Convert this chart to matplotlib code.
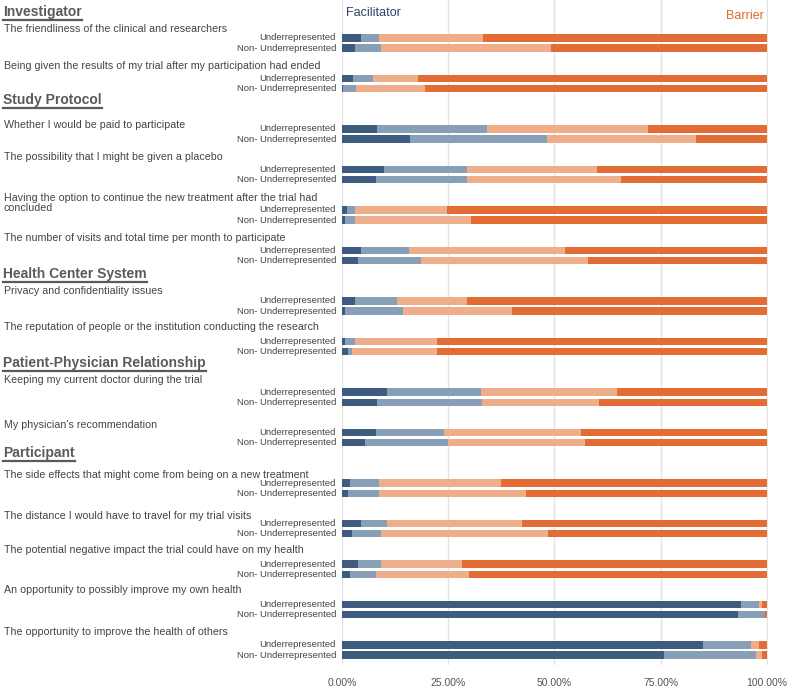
import numpy as np
import matplotlib.pyplot as plt
import matplotlib.transforms as mtransforms
from matplotlib.lines import Line2D

plt.rcParams['font.family'] = ['Liberation Sans', 'DejaVu Sans']

sections = ["Investigator", "Study Protocol", "Health Center System",
            "Patient-Physician Relationship", "Participant"]
section_of = [0, 0, 1, 1, 1, 1, 2, 2, 3, 3, 4, 4, 4, 4, 4]
questions = [
    "The friendliness of the clinical and researchers",
    "Being given the results of my trial after my participation had ended",
    "Whether I would be paid to participate",
    "The possibility that I might be given a placebo",
    "Having the option to continue the new treatment after the trial had\nconcluded",
    "The number of visits and total time per month to participate",
    "Privacy and confidentiality issues",
    "The reputation of people or the institution conducting the research",
    "Keeping my current doctor during the trial",
    "My physician's recommendation",
    "The side effects that might come from being on a new treatment",
    "The distance I would have to travel for my trial visits",
    "The potential negative impact the trial could have on my health",
    "An opportunity to possibly improve my own health",
    "The opportunity to improve the health of others",
]
groups = ["Underrepresented", "Non- Underrepresented"]

# shares in percent: strong facilitator, facilitator, barrier, strong barrier
under_dark = [4.4, 2.5, 8.2, 9.8, 1.25, 4.4, 3.1, 0.6, 10.5, 8.1, 1.9, 4.4, 3.7, 94.0, 85.1]
under_light = [4.2, 4.9, 26.0, 19.7, 1.85, 11.4, 9.8, 2.5, 22.3, 16.0, 6.7, 6.1, 5.5, 4.2, 11.2]
under_peach = [24.5, 10.6, 37.9, 30.6, 21.6, 36.8, 16.6, 19.3, 32.0, 32.1, 28.9, 31.9, 19.1, 0.6, 1.9]
under_orange = [66.9, 82.0, 27.9, 39.9, 75.3, 47.4, 70.5, 77.6, 35.2, 43.8, 62.5, 57.6, 71.7, 1.2, 1.8]

non_dark = [3.0, 0.3, 16.1, 7.9, 0.6, 3.7, 0.6, 1.3, 8.2, 5.3, 1.3, 2.35, 2.0, 93.2, 75.8]
non_light = [6.1, 3.1, 32.1, 21.6, 2.4, 14.9, 13.7, 1.0, 24.8, 19.6, 7.3, 6.95, 5.9, 6.5, 21.7]
non_peach = [40.2, 16.1, 35.2, 36.1, 27.4, 39.4, 25.7, 20.0, 27.5, 32.2, 34.7, 39.1, 22.1, 0.0, 1.5]
non_orange = [50.7, 80.5, 16.6, 34.4, 69.6, 42.0, 60.0, 77.7, 39.5, 42.9, 56.7, 51.6, 70.0, 0.3, 1.0]

x_ticks = [0, 25, 50, 75, 100]
x_labels = ["0.00%", "25.00%", "50.00%", "75.00%", "100.00%"]

colors = ["#3e5c7f", "#87a0b7", "#efae8a", "#e26c33"]
text_grey = "#444444"
head_grey = "#5a5a5a"

# question offset inside the text block (relative to bar pair center)
q_off = [-0.35, -0.44, -0.22, -0.44, -0.43, -0.42, -0.38, -0.49,
         -0.42, -0.32, -0.33, -0.30, -0.47, -0.49, -0.44]
h_off = [-0.77, -0.83, -0.80, -0.84, -0.86]

W, H = 789, 691
fig = plt.figure(figsize=(W / 100, H / 100), dpi=100)
ax = fig.add_axes([342 / W, (H - 665) / H, 426 / W, 665 / H])

centers = np.arange(len(questions)) + 0.25 * np.array(section_of)
y_under = centers - 0.125
y_non = centers + 0.125
bh = 0.18

under = [under_dark, under_light, under_peach, under_orange]
non = [non_dark, non_light, non_peach, non_orange]
left_u = np.zeros(len(questions))
left_n = np.zeros(len(questions))
for k in range(4):
    ax.barh(y_under, under[k], left=left_u, height=bh, color=colors[k], linewidth=0, zorder=3)
    ax.barh(y_non, non[k], left=left_n, height=bh, color=colors[k], linewidth=0, zorder=3)
    left_u += np.array(under[k])
    left_n += np.array(non[k])

px = 40.47
top = -43 / px
ax.set_ylim(top + 665 / px, top)
ax.set_xlim(0, 100.3)
ax.set_yticks([])
ax.set_xticks(x_ticks)
ax.set_xticklabels(x_labels, fontsize=7.5, color="#555555")
ax.tick_params(axis='x', length=0, pad=9)
for sp in ax.spines.values():
    sp.set_visible(False)
for xt in x_ticks:
    ax.axvline(xt, color="#e4e4e4", linewidth=1, zorder=1)

ax.text(1, -0.73, "Facilitator", color="#2c4566", fontsize=9, va='center', ha='left')
ax.text(99.3, -0.67, "Barrier", color="#e06a2e", fontsize=9, va='center', ha='right')

tr = mtransforms.blended_transform_factory(fig.transFigure, ax.transData)
line_step = 10 / px
for i, q in enumerate(questions):
    # one text per line, so each line has its own box
    for j, line in enumerate(q.split("\n")):
        ax.text(4 / W, centers[i] + q_off[i] + j * line_step, line, transform=tr,
                fontsize=7.7, color=text_grey, va='center', ha='left')
    ax.text(336 / W, y_under[i], groups[0], transform=tr, fontsize=6.8,
            color=text_grey, va='center', ha='right')
    ax.text(336 / W, y_non[i], groups[1], transform=tr, fontsize=6.8,
            color=text_grey, va='center', ha='right')

heads = []
for s, name in enumerate(sections):
    first = section_of.index(s)
    t = ax.text(3 / W, centers[first] + h_off[s], name, transform=tr, fontsize=10,
                fontweight='bold', color=head_grey, va='center', ha='left')
    heads.append(t)

fig.canvas.draw()
renderer = fig.canvas.get_renderer()
for t in heads:
    bb = t.get_window_extent(renderer)
    yl = bb.y0 - 1
    fig.add_artist(Line2D([bb.x0 / W, bb.x1 / W], [yl / H, yl / H],
                          transform=fig.transFigure, color=head_grey, linewidth=1.6))

fig.savefig("out.png", dpi=100)
